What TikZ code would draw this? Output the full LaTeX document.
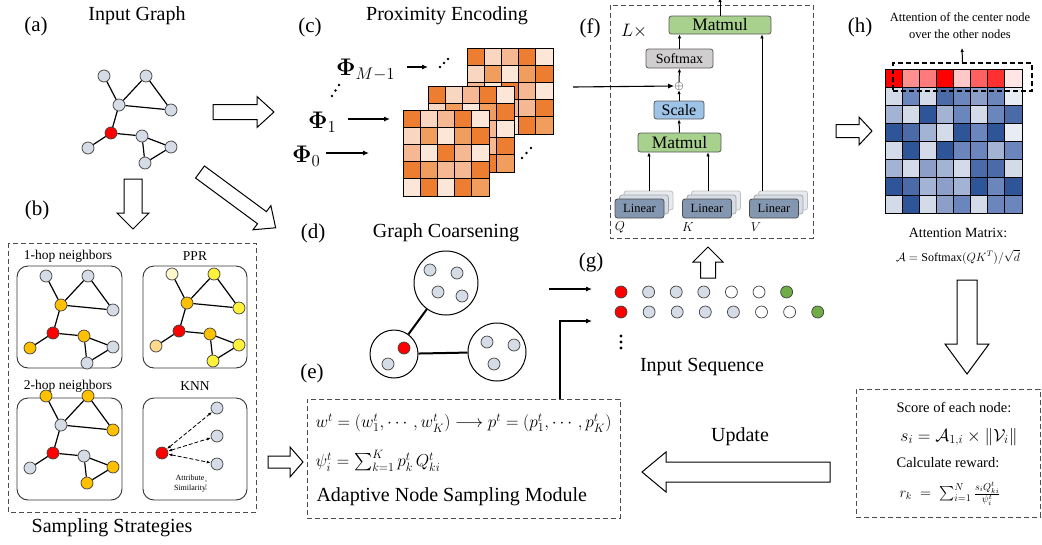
\RequirePackage{fix-cm}
\documentclass[tikz,border=0pt]{standalone}
\usepackage{amsmath}
\usepackage{fontspec}
\setmainfont{Liberation Serif}
\usetikzlibrary{arrows.meta,calc}

\definecolor{gnode}{HTML}{D6DCE5}
\definecolor{rnode}{HTML}{FF0000}
\definecolor{onode}{HTML}{FFC000}
\definecolor{ynode}{HTML}{FFF23A}
\definecolor{lyel}{HTML}{FFF8CC}
\definecolor{ltan}{HTML}{FFD98C}
\definecolor{gseq}{HTML}{70AD47}
\definecolor{mmgreen}{HTML}{A9D18E}
\definecolor{smgray}{HTML}{D0CECE}
\definecolor{scblue}{HTML}{9DC3E6}
\definecolor{linb}{HTML}{8497B0}
\definecolor{linb1}{HTML}{ADB9CA}
\definecolor{linb2}{HTML}{D6DCE5}
% proximity matrix colours
\definecolor{cD}{HTML}{ED7D31}
\definecolor{cN}{HTML}{F19D5E}
\definecolor{cM}{HTML}{F5B893}
\definecolor{cL}{HTML}{F8D6BF}
\definecolor{cV}{HTML}{FCE6D8}
% attention matrix colours
\definecolor{hb0}{HTML}{E8ECF4}
\definecolor{hb1}{HTML}{D3DAE8}
\definecolor{hb2}{HTML}{A2B3D4}
\definecolor{hb3}{HTML}{8B9FC9}
\definecolor{hb4}{HTML}{6B86BC}
\definecolor{hb5}{HTML}{4A6AA8}
\definecolor{hb6}{HTML}{2E5597}
\definecolor{hr1}{HTML}{FF0000}
\definecolor{hr2}{HTML}{FF8F8F}
\definecolor{hr3}{HTML}{FF7B7B}
\definecolor{hr4}{HTML}{FF0000}
\definecolor{hr5}{HTML}{FFC7C7}
\definecolor{hr6}{HTML}{FF6060}
\definecolor{hr7}{HTML}{FF3030}
\definecolor{hr8}{HTML}{FFE5E5}

\newcommand\HArrow[6]{\begin{scope}[shift={#1},rotate=#2]
\draw[hollow] (0,-#4) -- ({#3-#6},-#4) -- ({#3-#6},-#5) -- (#3,0) -- ({#3-#6},#5) -- ({#3-#6},#4) -- (0,#4) -- cycle;
\end{scope}}

\newcommand\GraphAt[2]{\begin{scope}[shift={#2}]
\node[gn,fill=\cA] (#1A) at (104,76) {};
\node[gn,fill=\cB] (#1B) at (146,76) {};
\node[gn,fill=\cC] (#1C) at (119,105) {};
\node[gn,fill=\cD] (#1D) at (171,110) {};
\node[gn,fill=rnode] (#1R) at (111,133) {};
\node[gn,fill=\cE] (#1E) at (142,136) {};
\node[gn,fill=\cF] (#1F) at (171,147) {};
\node[gn,fill=\cG] (#1G) at (88,148) {};
\node[gn,fill=\cH] (#1H) at (145,163) {};
\draw[ge] (#1A)--(#1C) (#1C)--(#1B) (#1B)--(#1D) (#1C)--(#1D) (#1C)--(#1R)
 (#1R)--(#1G) (#1R)--(#1E) (#1E)--(#1F) (#1E)--(#1H) (#1F)--(#1H);
\end{scope}}

\newcommand\PMat[2]{%
\foreach \row [count=\r from 0] in {{D,L,M,D,V},{L,N,V,N,D},{M,V,D,M,V},{D,N,M,M,D},{V,D,V,D,N}}{%
 \foreach \c [count=\k from 0] in \row {%
  \draw[fill=c\c, line width=0.8pt] ({#1+\k*17.2},{#2+\r*17.2}) rectangle +(17.2,17.2);
 }}%
\draw[line width=1pt] (#1,#2) rectangle +(86,86);}

\begin{document}
\begin{tikzpicture}[x=1pt,y=-1pt,
  gn/.style={circle, draw=black!75, line width=0.7pt, minimum size=12pt, inner sep=0pt},
  ge/.style={line width=1.2pt},
  lbl/.style={font=\fontsize{21}{24}\selectfont},
  ttl/.style={font=\fontsize{20}{24}\selectfont},
  dbox/.style={draw=black!70, line width=0.9pt, dash pattern=on 5pt off 3pt},
  panel/.style={rounded corners=11pt, draw=black!80, line width=0.9pt},
  hollow/.style={draw=black, line width=1pt, fill=white},
  conn/.style={line width=1.1pt, -{Latex[length=6pt,width=5pt]}},
  sconn/.style={line width=1pt, -{Latex[length=4pt,width=3.5pt]}},
  fb/.style={rounded corners=2.5pt, draw=black!65, line width=0.8pt, inner sep=0pt},
]
\useasboundingbox (0,0) rectangle (1042,544);

% ---------- (a) ----------
\node[lbl] (la) at (36,26) {(a)};
\node[ttl] (ta) at (137,16) {Input Graph};
\def\cA{gnode}\def\cB{gnode}\def\cC{gnode}\def\cD{gnode}\def\cE{gnode}\def\cF{gnode}\def\cG{gnode}\def\cH{gnode}
\GraphAt{a}{(0,0)}

\HArrow{(213,112)}{0}{61}{7.5}{15.5}{17}
\HArrow{(133,179)}{-90}{50}{9}{16}{16}
\HArrow{(200,172)}{-36.4}{94}{7.5}{15}{17}

% ---------- (b) ----------
\node[lbl] (lb) at (37,210) {(b)};
\draw[dbox] (8,243) rectangle (256,512);
\node[ttl] (tb) at (112,528) {Sampling Strategies};
\draw[panel] (17,266) rectangle (122,368);
\draw[panel] (143,266) rectangle (247,368);
\draw[panel] (17,398) rectangle (122,500);
\draw[panel] (143,398) rectangle (247,500);
\node[font=\fontsize{13.5}{16}\selectfont] (t1) at (68,256) {1-hop neighbors};
\node[font=\fontsize{13.5}{16}\selectfont] (t2) at (195,256) {PPR};
\node[font=\fontsize{13.5}{16}\selectfont] (t3) at (68,386) {2-hop neighbors};
\node[font=\fontsize{13.5}{16}\selectfont] (t4) at (195,386) {KNN};

\def\cA{gnode}\def\cB{gnode}\def\cC{onode}\def\cD{gnode}\def\cE{onode}\def\cF{gnode}\def\cG{onode}\def\cH{gnode}
\GraphAt{b}{(-58,200)}
\def\cA{lyel}\def\cB{ynode}\def\cC{onode}\def\cD{ynode}\def\cE{onode}\def\cF{ynode}\def\cG{ltan}\def\cH{ynode}
\GraphAt{p}{(68,198)}
\def\cA{onode}\def\cB{onode}\def\cC{gnode}\def\cD{onode}\def\cE{gnode}\def\cF{onode}\def\cG{gnode}\def\cH{onode}
\GraphAt{t}{(-58,320)}

\node[gn,fill=rnode] (kR) at (162,453) {};
\node[gn,fill=gnode] (k1) at (217,408) {};
\node[gn,fill=gnode] (k2) at (217,436) {};
\node[gn,fill=gnode] (k3) at (217,464) {};
\foreach \t in {k1,k2,k3}
  \draw[line width=0.8pt, dash pattern=on 4pt off 2pt, {Latex[length=4pt,width=3pt]}-{Latex[length=4pt,width=3pt]}] (kR) -- (\t);
\node[font=\fontsize{8}{10}\selectfont, align=center] (attr) at (190,484) {Attribute\\Similarity};
\fill (206,481) circle (0.7) (206,485) circle (0.7) (206,489) circle (0.7);

% ---------- (c) ----------
\node[lbl] (lc) at (310,27) {(c)};
\node[ttl] (tc) at (447,16) {Proximity Encoding};
\PMat{467}{48}
\PMat{428}{86}
\PMat{403}{110}
\node[font=\fontsize{24}{28}\selectfont, anchor=west, inner sep=0pt] (phiM) at (336,70) {$\boldsymbol{\Phi}_{M-1}$};
\node[font=\fontsize{24}{28}\selectfont, anchor=west, inner sep=0pt] (phi1) at (308,122) {$\boldsymbol{\Phi}_1$};
\node[font=\fontsize{24}{28}\selectfont, anchor=west, inner sep=0pt] (phi0) at (292,156) {$\boldsymbol{\Phi}_0$};
\coordinate (cM) at (428,67);
\coordinate (c1) at (390,119);
\coordinate (c0) at (369,153);
\draw[conn] (407,67) -- (cM);
\draw[conn] (348,119) -- (c1);
\draw[conn] (326,153) -- (c0);
\foreach \p in {(440,67),(444,63),(448,59),(332,96),(335.5,90.5),(339,85),(522,158),(526.5,153),(531,148)}
  \fill \p circle (1.4);

% ---------- (f) ----------
\node[lbl] (lf) at (590,28) {(f)};
\draw[dbox] (610,5) rectangle (813,238);
\node[font=\fontsize{18}{20}\selectfont] (Lx) at (634,31) {$L\times$};
\node[fb, fill=mmgreen, minimum width=102pt, minimum height=18pt, font=\fontsize{17.5}{20}\selectfont] (mm2) at (720,25) {Matmul};
\node[fb, fill=smgray, minimum width=67pt, minimum height=19pt, font=\fontsize{14}{16}\selectfont] (sm) at (679.5,58.5) {Softmax};
\node[inner sep=0pt, font=\fontsize{12}{14}\selectfont] (plus) at (679,86) {$\oplus$};
\node[fb, fill=scblue, minimum width=50pt, minimum height=18pt, font=\fontsize{16}{18}\selectfont] (sc) at (679,110) {Scale};
\node[fb, fill=mmgreen, minimum width=83pt, minimum height=19pt, font=\fontsize{17.5}{20}\selectfont] (mm1) at (679.5,142.5) {Matmul};
\foreach \n/\x in {q/639.5,k/707,v/774}{
  \node[fb, fill=linb2!60, draw=black!25, minimum width=49pt, minimum height=19pt] (\n b2) at (\x+9,200.5) {};
  \node[fb, fill=linb2, draw=black!35, minimum width=49pt, minimum height=19pt] (\n b1) at (\x+4.5,204.5) {};
  \node[fb, fill=linb, draw=black!70, minimum width=49pt, minimum height=19pt, font=\fontsize{12.5}{14}\selectfont] (\n lin) at (\x,208.5) {Linear};
}
\node[font=\fontsize{13}{15}\selectfont] (Qt) at (620,227) {$Q$};
\node[font=\fontsize{13}{15}\selectfont] (Kt) at (688,227) {$K$};
\node[font=\fontsize{13}{15}\selectfont] (Vt) at (756,227) {$V$};
\coordinate (qa) at (649,191);
\coordinate (ka) at (708,191);
\coordinate (va) at (762,191);
\draw[sconn] (qa) -- (qa |- mm1.south);
\draw[sconn] (ka) -- (ka |- mm1.south);
\draw[sconn] (va) -- (va |- mm2.south);
\draw[sconn] (mm1.north) -- (sc.south);
\draw[sconn] (sc.north) -- (plus.south);
\draw[sconn] (plus.north) -- (sm.south);
\draw[sconn] (sm.north) -- (sm.north |- mm2.south);
\coordinate (fout) at (720,-2);
\draw[sconn] (mm2.north) -- (fout);
\coordinate (cout) at (573,87);
\draw[conn] (cout) -- (plus.west);

% ---------- (h) ----------
\node[lbl] (lh) at (860,27) {(h)};
\node[font=\fontsize{12.5}{17}\selectfont, align=center] (th) at (960,26) {Attention of the center node\\over the other nodes};
\foreach \v [count=\k from 0] in {1,...,8}
  \draw[fill=hr\v, line width=0.9pt] ({885+\k*17.125},69) rectangle +(17.125,18);
\foreach \row [count=\r from 1] in {{1,4,1,5,4,3,4,0},{2,1,6,2,4,1,4,5},{6,5,2,1,6,4,6,0},{1,6,1,6,4,4,2,4},{2,1,3,2,1,5,5,1},{6,5,2,3,2,6,4,6},{1,6,1,3,4,1,4,4}}{%
  \foreach \v [count=\k from 0] in \row
    \draw[fill=hb\v, line width=0.9pt] ({885+\k*17.125},{69+\r*18}) rectangle +(17.125,18);
}
\draw[line width=1pt] (885,69) rectangle (1022,213);
\node[draw=black, line width=1.1pt, dash pattern=on 5pt off 3pt, minimum width=139pt, minimum height=28pt, inner sep=0pt] (hsel) at (962.5,77) {};
\coordinate (hattn) at (962,48);
\draw[sconn] (hsel.north) -- (hattn);
\node[font=\fontsize{14}{16}\selectfont, inner sep=0pt] (am1) at (958,233) {Attention Matrix:};
\node[font=\fontsize{12}{14}\selectfont, inner sep=0pt] (am2) at (958,257) {$\mathcal{A}=\text{Softmax}(QK^T)/\sqrt{d}$};
\HArrow{(836,131)}{0}{36}{6.5}{14}{13}
\HArrow{(967,280)}{-90}{94}{10}{22}{30}

% score box
\node[dbox, minimum width=184pt, minimum height=128pt] (sbox) at (948,453) {};
\node[font=\fontsize{14.5}{16}\selectfont] (s1) at (954,407) {Score of each node:};
\node[font=\fontsize{17.5}{20}\selectfont] (s2) at (959,437) {$s_i=\mathcal{A}_{1,i}\times\|\mathcal{V}_i\|$};
\node[font=\fontsize{14.5}{16}\selectfont] (s3) at (948,463) {Calculate reward:};
\node[font=\fontsize{14.5}{17}\selectfont] (s4) at (950,494) {$r_k\;=\;\sum_{i=1}^{N}\frac{s_iQ^t_{ki}}{\psi^t_i}$};

% ---------- update ----------
\node[ttl] (tu) at (740,437) {Update};
\HArrow{(830,472)}{180}{188}{10}{20}{24}

% ---------- (d) ----------
\node[lbl] (ld) at (313,233) {(d)};
\node[ttl] (td) at (446,233) {Graph Coarsening};
\node[circle, draw, line width=1pt, minimum size=64pt] (ct) at (446,283) {};
\node[circle, draw, line width=1pt, minimum size=48pt] (cl) at (394,354) {};
\node[circle, draw, line width=1pt, minimum size=58pt] (cr) at (497,352) {};
\draw[line width=2pt] (ct) -- (cl);
\draw[line width=2pt] (cl) -- (cr);
\node[gn,fill=gnode] (d1) at (430,270) {};
\node[gn,fill=gnode] (d2) at (457,273) {};
\node[gn,fill=gnode] (d3) at (438,292) {};
\node[gn,fill=gnode] (d4) at (462,296) {};
\node[gn,fill=rnode] (d5) at (404,348) {};
\node[gn,fill=gnode] (d6) at (388,364) {};
\node[gn,fill=gnode] (d7) at (487,342) {};
\node[gn,fill=gnode] (d8) at (514,345) {};
\node[gn,fill=gnode] (d9) at (494,364) {};

% ---------- (e) ----------
\node[lbl] (le) at (312,373) {(e)};
\node[dbox, minimum width=313pt, minimum height=119pt] (ebox) at (463.5,458.5) {};
\node[anchor=west, font=\fontsize{17.3}{20}\selectfont] (e1) at (312,423) {$w^t=(w^t_1,\cdots,w^t_K)\longrightarrow p^t=(p^t_1,\cdots,p^t_K)$};
\node[anchor=west, font=\fontsize{17.3}{20}\selectfont] (e2) at (312,461) {$\psi^t_i=\sum_{k=1}^{K}p^t_k\,Q^t_{ki}$};
\node[anchor=west, ttl] (e3) at (313,497) {Adaptive Node Sampling Module};
\HArrow{(268,462)}{0}{35}{6}{15}{13}

% ---------- (g) ----------
\node[lbl] (lg) at (591,262) {(g)};
\foreach \c [count=\i from 0] in {rnode,gnode,gnode,gnode,white,white,gseq}
  \node[gn, fill=\c] (sa\i) at ({621+\i*27.6},292) {};
\foreach \c [count=\i from 0] in {rnode,gnode,gnode,gnode,gnode,white,white,gseq}
  \node[gn, fill=\c] (sb\i) at ({621+\i*28.1},312) {};
\fill (621,336) circle (1.6) (621,342) circle (1.6) (621,348) circle (1.6);
\node[ttl] (tg) at (702,367) {Input Sequence};
\coordinate (dout) at (549,289);
\coordinate (gin1) at (592,289);
\draw[conn] (dout) -- (gin1);
\coordinate (eup) at (560,399);
\coordinate (gin2) at (592,321);
\draw[conn] (eup) |- (gin2);
\HArrow{(708,278)}{90}{31}{7.5}{15}{15}

\end{tikzpicture}
\end{document}
